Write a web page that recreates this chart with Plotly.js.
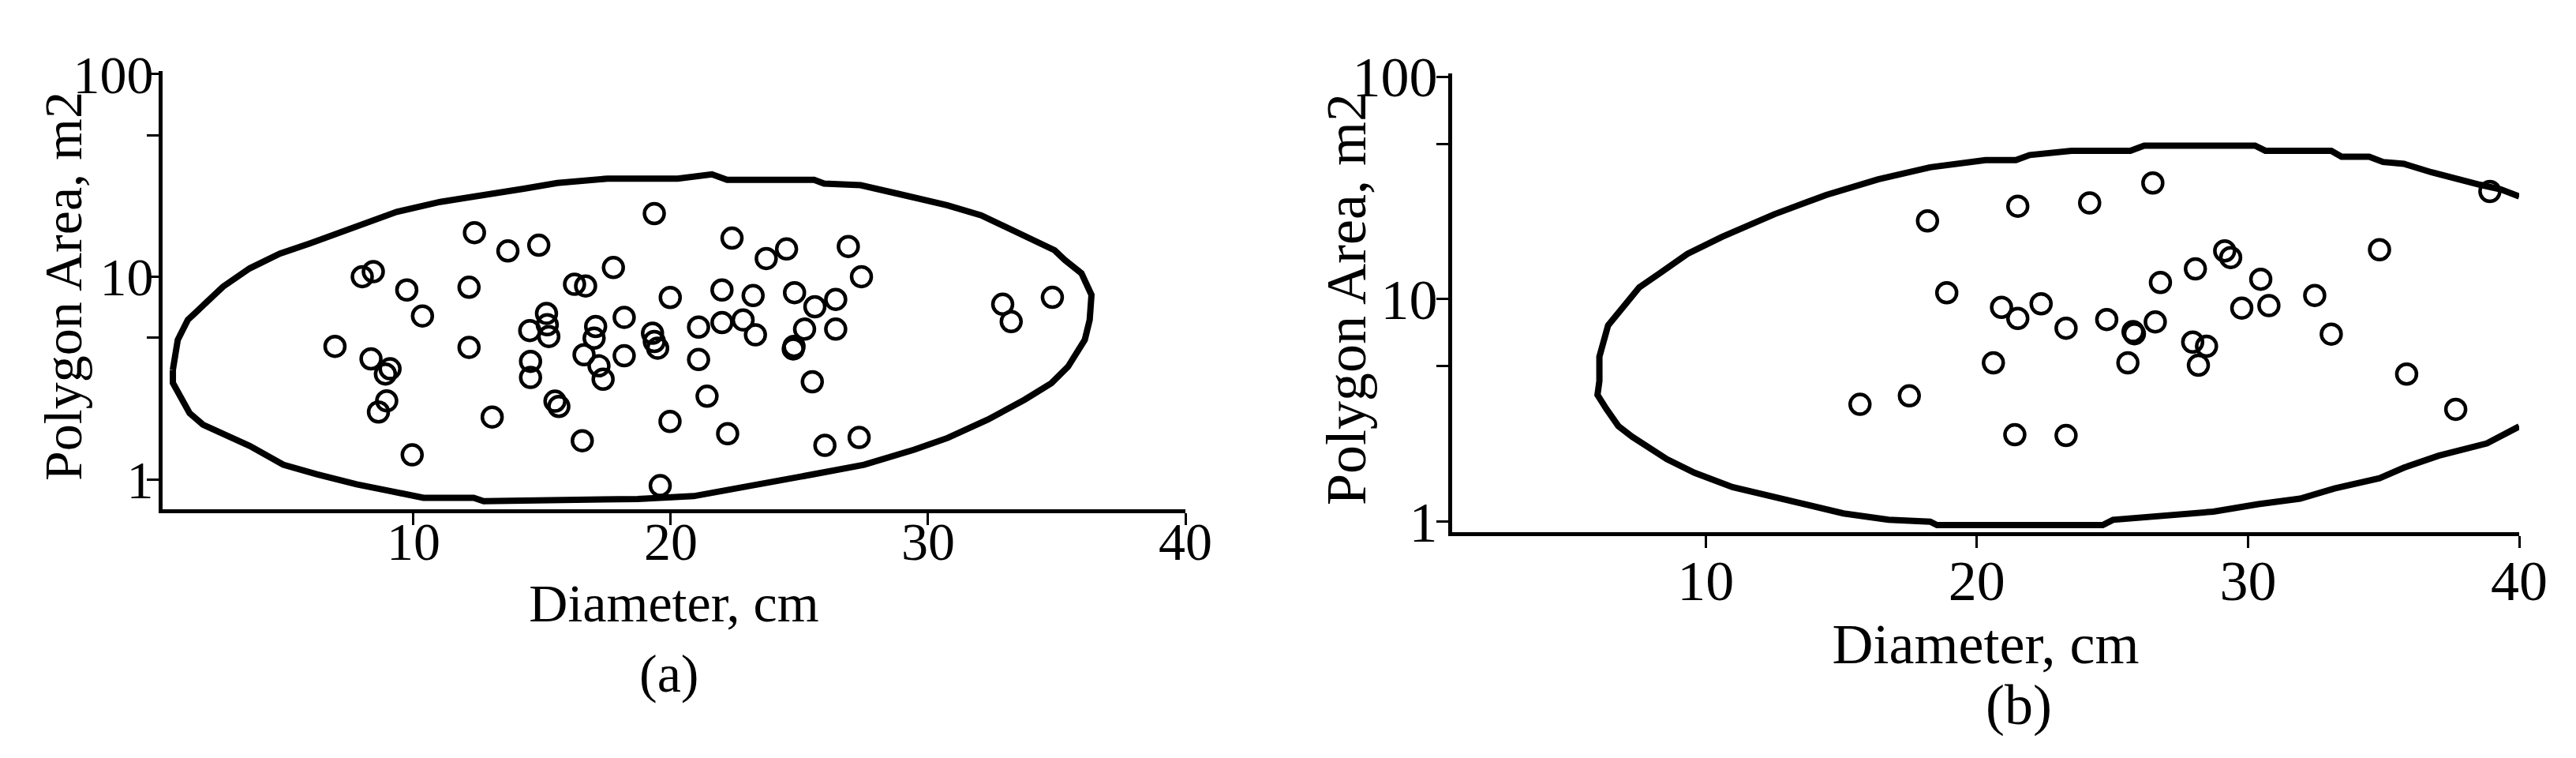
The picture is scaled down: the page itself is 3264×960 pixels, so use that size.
<!DOCTYPE html>
<html>
<head>
<meta charset="utf-8">
<script src="https://cdn.plot.ly/plotly-3.0.1.min.js"></script>
<style>html,body{margin:0;padding:0;background:#fff;}#chart{width:3264px;height:960px;}</style>
</head>
<body>
<div id="chart"></div>
<script>
// Panel (a) points: diameter (cm), polygon area (m2)
const diamA = [6.95,8.01,8.44,8.35,9.74,10.35,9.09,8.91,8.96,8.64,9.95,12.37,12.16,12.16,13.06,13.67,14.87,14.52,15.17,15.2,15.26,14.55,14.55,15.5,15.65,16.26,16.69,17.77,17.08,17.02,16.63,17.21,17.37,16.56,18.19,18.19,19.36,19.29,19.49,19.36,19.98,19.97,19.59,22.38,23.71,24.5,26.9,27.41,21.99,23.2,24.81,26.41,25.6,21.08,21.99,22.81,23.29,25.2,24.79,24.76,26.41,21.08,21.41,25.5,22.21,25.99,27.32,32.9,33.23,34.83];
const areaA = [4.53,10.0,10.6,3.93,8.6,6.4,3.51,3.31,2.44,2.15,1.32,16.5,8.87,4.48,2.03,13.4,14.3,5.42,6.59,5.79,5.07,3.82,3.18,2.43,2.29,9.18,9.0,11.1,5.68,4.97,4.12,3.63,3.12,1.55,6.3,4.07,20.5,5.26,4.44,4.79,7.9,1.93,0.93,15.5,12.3,13.7,14.1,10.0,8.6,8.07,8.34,7.73,7.11,5.64,5.94,6.12,5.17,5.51,4.53,4.4,5.51,3.9,2.57,3.03,1.68,1.47,1.61,7.31,6.0,7.91];

// Panel (a) boundary ellipse
const ellipseAx = [0.65,0.84,1.23,1.88,2.6,3.64,4.81,5.98,7.53,9.35,11.04,12.86,14.29,15.59,17.54,20.27,21.0,21.6,22.19,25.57,25.96,27.38,28.81,30.76,32.06,33.36,34.92,35.31,35.96,36.35,36.28,36.09,35.44,34.79,33.75,32.32,30.76,29.46,27.51,25.57,23.75,22.06,20.89,18.71,12.73,12.34,10.39,9.09,7.79,6.24,4.94,3.64,2.21,1.82,1.3,0.91,0.65,0.65];
const ellipseAy = [3.47,4.88,6.12,7.39,8.93,11.0,13.0,14.6,17.3,20.9,23.4,25.7,27.2,29.0,30.5,30.5,31.5,32.0,30.1,30.1,28.8,28.3,25.7,22.5,20.1,16.7,13.5,12.1,10.4,8.13,6.12,4.88,3.6,2.98,2.47,1.97,1.6,1.4,1.18,1.06,0.96,0.875,0.826,0.80,0.78,0.81,0.81,0.875,0.944,1.06,1.18,1.46,1.79,1.86,2.12,2.57,2.99,3.47];

// Panel (b) points
const diamB = [18.18,18.89,15.69,17.51,21.51,24.16,26.49,20.91,21.51,22.37,23.29,24.79,25.76,25.81,26.58,26.77,28.06,29.14,29.36,30.47,29.77,30.77,32.46,33.07,27.96,28.47,28.17,25.57,20.61,34.85,35.85,37.66,38.92,21.4,23.29];
const areaB = [22.5,10.7,3.37,3.68,26.2,27.1,33.3,9.2,8.2,9.54,7.41,8.11,7.15,7.0,7.91,11.9,13.7,16.5,15.4,12.3,9.13,9.37,10.4,6.97,6.42,6.15,5.05,5.18,5.18,16.7,4.61,3.2,30.5,2.46,2.44];

// Panel (b) boundary ellipse (open at the right edge)
const ellipseBx = [40.0,38.81,37.03,35.75,34.85,33.19,31.92,30.38,28.72,27.19,25.02,24.64,18.53,18.28,16.74,15.08,13.16,10.99,9.59,8.57,7.29,6.78,6.33,6.01,6.08,6.08,6.4,6.91,7.55,8.31,9.33,10.61,12.53,14.44,16.36,18.28,20.32,21.44,21.95,23.49,25.66,26.17,30.26,30.64,33.07,33.45,34.47,34.98,35.75,36.77,37.66,38.56,39.32,40.0];
const ellipseBy = [2.68,2.25,1.98,1.75,1.57,1.41,1.27,1.2,1.11,1.075,1.02,0.966,0.966,1.0,1.02,1.09,1.24,1.43,1.66,1.91,2.41,2.69,3.22,3.72,4.29,5.52,7.63,9.14,11.3,13.1,16.0,19.1,24.1,29.4,34.6,39.2,42.2,42.2,44.5,46.5,46.5,49.0,49.0,46.5,46.5,43.7,43.7,41.4,40.6,37.2,34.6,32.7,31.2,29.0];

const xTicks = [10, 20, 30, 40];
const yTicks = [1, 5, 10, 50, 100];
const yTickText = ['1', '', '10', '', '100'];
const xTitle = 'Diameter, cm';
const yTitle = 'Polygon Area, m2';
const panelLabels = ['(a)', '(b)'];

const FONT = 'Liberation Serif, Times New Roman, serif';

const markerStyle = {symbol: 'circle-open', size: 25, color: '#000', line: {width: 4.5, color: '#000'}};

const traces = [
  {x: ellipseAx, y: ellipseAy, xaxis: 'x', yaxis: 'y', mode: 'lines', line: {color: '#000', width: 8}, hoverinfo: 'skip'},
  {x: diamA, y: areaA, xaxis: 'x', yaxis: 'y', mode: 'markers', marker: markerStyle},
  {x: ellipseBx, y: ellipseBy, xaxis: 'x2', yaxis: 'y2', mode: 'lines', line: {color: '#000', width: 8}, hoverinfo: 'skip'},
  {x: diamB, y: areaB, xaxis: 'x2', yaxis: 'y2', mode: 'markers', marker: markerStyle}
];

function xAxis(domain, range, anchor, fs, labelOff, standoff) {
  return {
    domain: domain, range: range, anchor: anchor,
    showline: true, linewidth: 5, linecolor: '#000',
    ticks: 'outside', ticklen: 15, tickwidth: 3, tickcolor: '#000',
    tickmode: 'array', tickvals: xTicks,
    ticklabelstandoff: labelOff,
    tickfont: {family: FONT, size: fs, color: '#000'},
    showgrid: false, zeroline: false, automargin: false,
    title: {text: xTitle, font: {family: FONT, size: fs, color: '#000'}, standoff: standoff}
  };
}
function yAxis(domain, range, anchor, fs, labelOff) {
  return {
    domain: domain, range: range, anchor: anchor, type: 'log',
    showline: true, linewidth: 5, linecolor: '#000',
    ticks: 'outside', ticklen: 15, tickwidth: 3, tickcolor: '#000',
    tickmode: 'array', tickvals: yTicks, ticktext: yTickText,
    ticklabelstandoff: labelOff,
    tickfont: {family: FONT, size: fs, color: '#000'},
    showgrid: false, zeroline: false, automargin: false
  };
}
function note(text, x, y, fs, angle) {
  return {text: text, xref: 'paper', yref: 'paper', x: x / 3264, y: 1 - y / 960,
    showarrow: false, xanchor: 'center', yanchor: 'middle', textangle: angle || 0,
    font: {family: FONT, size: fs, color: '#000'}};
}

const layout = {
  width: 3264, height: 960,
  margin: {l: 0, r: 0, t: 0, b: 0},
  paper_bgcolor: '#fff', plot_bgcolor: '#fff',
  showlegend: false,
  xaxis: xAxis([206/3264, 1502/3264], [0.25, 40], 'y', 68, -38, 18),
  yaxis: yAxis([1 - 645/960, 1 - 89.5/960], [-0.148, 2.017], 'x', 68, -22),
  xaxis2: xAxis([1840/3264, 3192/3264], [0.65, 40], 'y2', 72, -20, 0),
  yaxis2: yAxis([1 - 674/960, 1 - 93/960], [-0.047, 2.015], 'x2', 72, -16),
  annotations: [
    note(yTitle, 80, 363, 68, -90),
    note(yTitle, 1706, 379, 72, -90),
    note(panelLabels[0], 847, 853, 68),
    note(panelLabels[1], 2558, 893, 72)
  ]
};

Plotly.newPlot('chart', traces, layout, {staticPlot: true, displayModeBar: false});
</script>
</body>
</html>
